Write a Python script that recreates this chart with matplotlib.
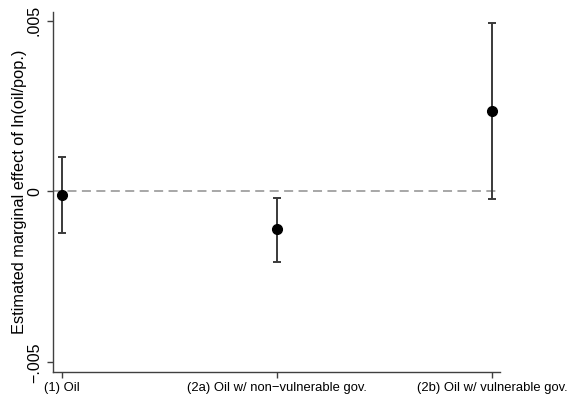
import numpy as np
import matplotlib.pyplot as plt

plt.rcParams['font.family'] = ['Liberation Sans', 'DejaVu Sans']

labels = ['(1) Oil', '(2a) Oil w/ non\u2212vulnerable gov.', '(2b) Oil w/ vulnerable gov.']
est = [-0.0001, -0.0011, 0.00236]
ci_low = [-0.0012, -0.00206, -0.00022]
ci_high = [0.00102, -0.00019, 0.00494]

x = np.arange(1, len(labels) + 1)
est = np.array(est)
err = np.array([est - np.array(ci_low), np.array(ci_high) - est])

fig = plt.figure(figsize=(5.7, 3.99), dpi=100)
ax = fig.add_axes([53/570, 27/399, 447/570, 360/399])

ax.axhline(0, color='#a0a0a0', lw=1.3, ls=(0, (5, 3)), zorder=1)
ax.errorbar(x, est, yerr=err, fmt='o', color='black', ecolor='#3a3a3a',
            elinewidth=1.4, capsize=2.6, capthick=1.4, markersize=7, zorder=3)

ax.set_xlim(0.958, 3.037)
ax.set_ylim(-0.00528, 0.00525)
ax.set_xticks(x)
ax.set_xticklabels(labels, fontsize=9.4)
ax.set_yticks([-0.005, 0, 0.005])
ax.set_yticklabels(['\u2212.005', '0', '.005'], rotation=90, va='center', fontsize=11.5)
ax.set_ylabel('Estimated marginal effect of ln(oil/pop.)', fontsize=11.8, labelpad=0)

for s in ['top', 'right']:
    ax.spines[s].set_visible(False)
for s in ['left', 'bottom']:
    ax.spines[s].set_color('#404040')
    ax.spines[s].set_linewidth(1.0)
ax.tick_params(axis='x', length=4, width=1.0, color='#404040', pad=3)
ax.tick_params(axis='y', length=4, width=1.0, color='#404040', pad=4)

fig.savefig('out.png', dpi=100)
